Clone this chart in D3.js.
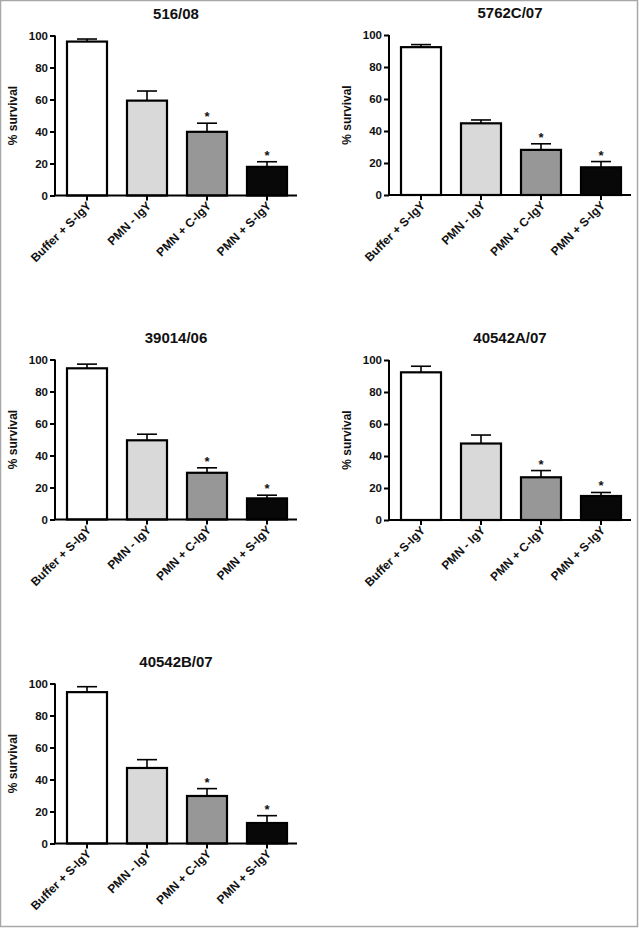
<!DOCTYPE html>
<html>
<head>
<meta charset="utf-8">
<script src="https://cdn.jsdelivr.net/npm/d3@7"></script>
<style>
  html, body { margin: 0; padding: 0; background: #fff; }
  svg { display: block; }
  text { font-family: "Liberation Sans", Arial, sans-serif; font-weight: bold; fill: #111; }
</style>
</head>
<body>
<svg id="chart" width="639" height="928"></svg>
<script>
// ---- data ----
const categories = ["Buffer + S-IgY", "PMN - IgY", "PMN + C-IgY", "PMN + S-IgY"];
const barColors = ["#ffffff", "#d9d9d9", "#979797", "#080808"];
const significant = [false, false, true, true];
const yTicks = [0, 20, 40, 60, 80, 100];

const titles = ["516/08", "5762C/07", "39014/06", "40542A/07", "40542B/07"];
const means_516_08   = [96.2, 59.3, 39.8, 17.9];
const errors_516_08  = [1.6, 6.0, 5.4, 3.2];
const means_5762C_07 = [92.4, 44.8, 28.2, 17.3];
const errors_5762C_07= [1.6, 2.1, 3.8, 3.6];
const means_39014_06 = [94.5, 49.5, 29.2, 13.2];
const errors_39014_06= [2.6, 3.8, 3.1, 2.0];
const means_40542A_07 = [92.3, 47.8, 26.7, 15.0];
const errors_40542A_07= [3.8, 5.3, 4.2, 2.2];
const means_40542B_07 = [94.6, 47.2, 29.7, 12.8];
const errors_40542B_07= [3.4, 5.2, 4.6, 4.6];

const panelMeans = [means_516_08, means_5762C_07, means_39014_06, means_40542A_07, means_40542B_07];
const panelErrors = [errors_516_08, errors_5762C_07, errors_39014_06, errors_40542A_07, errors_40542B_07];

// ---- layout ----
const layout = [
  {axisX: 55,  top: 35.5},
  {axisX: 389, top: 35},
  {axisX: 55,  top: 359.5},
  {axisX: 389, top: 360},
  {axisX: 55,  top: 683.5}
];
const plotH = 160;
const plotW = 240;

const svg = d3.select("#chart");
svg.append("rect").attr("x", 0.5).attr("y", 0.5).attr("width", 637).attr("height", 926)
  .attr("fill", "#fff").attr("stroke", "#a8a8a8").attr("stroke-width", 1.5);

layout.forEach((L, i) => {
  const means = panelMeans[i], errs = panelErrors[i];
  const g = svg.append("g");
  const x0 = L.axisX + 2;
  const y = d3.scaleLinear().domain([0, 100]).range([L.top + plotH, L.top]);
  const x = d3.scaleBand().domain(categories).range([x0, x0 + plotW])
    .paddingInner(1/3).paddingOuter(1/6);

  // bars
  g.selectAll("rect.bar").data(categories).join("rect")
    .attr("class", "bar")
    .attr("x", d => x(d))
    .attr("width", x.bandwidth())
    .attr("y", (d, k) => y(means[k]))
    .attr("height", (d, k) => y(0) - y(means[k]))
    .attr("fill", (d, k) => barColors[k])
    .attr("stroke", "#000").attr("stroke-width", 2.2);

  // error bars (upper only)
  categories.forEach((c, k) => {
    const cx = x(c) + x.bandwidth() / 2;
    const top = y(means[k] + errs[k]);
    g.append("line").attr("x1", cx).attr("x2", cx)
      .attr("y1", y(means[k])).attr("y2", top)
      .attr("stroke", "#000").attr("stroke-width", 1.6);
    g.append("line").attr("x1", cx - 10).attr("x2", cx + 10)
      .attr("y1", top).attr("y2", top)
      .attr("stroke", "#000").attr("stroke-width", 1.6);
    if (significant[k]) {
      g.append("text").attr("x", cx).attr("y", top - 2)
        .attr("text-anchor", "middle").attr("font-size", 13).text("*");
    }
  });

  // y axis
  const yAxis = d3.axisLeft(y).tickValues(yTicks).tickSize(5).tickPadding(2);
  const ya = g.append("g").attr("transform", `translate(${L.axisX},0)`).call(yAxis);
  ya.select(".domain").attr("stroke", "#000").attr("stroke-width", 2)
    .attr("d", `M0,${y(100)}V${y(0)}`);
  ya.selectAll(".tick line").attr("stroke", "#000").attr("stroke-width", 2);
  ya.selectAll(".tick text").attr("font-size", 11.5).attr("font-family", null)
    .style("font-weight", "bold").attr("fill", "#111");

  // x axis
  const xa = g.append("g").attr("transform", `translate(0,${y(0)})`)
    .call(d3.axisBottom(x).tickSize(5).tickFormat(""));
  xa.select(".domain").attr("stroke", "#000").attr("stroke-width", 2)
    .attr("d", `M${L.axisX},0H${x0 + plotW}`);
  xa.selectAll(".tick line").attr("stroke", "#000").attr("stroke-width", 2);

  // x labels (rotated)
  categories.forEach(c => {
    const cx = x(c) + x.bandwidth() / 2;
    g.append("text")
      .attr("transform", `translate(${cx + 5},${y(0) + 11}) rotate(-45)`)
      .attr("text-anchor", "end").attr("font-size", 12).text(c);
  });

  // y label
  g.append("text")
    .attr("transform", `translate(${L.axisX - 38},${(y(0) + y(100)) / 2}) rotate(-90)`)
    .attr("text-anchor", "middle").attr("font-size", 12).text("% survival");

  // title
  g.append("text").attr("x", (L.axisX + x0 + plotW) / 2).attr("y", L.top - 17)
    .attr("text-anchor", "middle").attr("font-size", 15).text(titles[i]);
});
</script>
</body>
</html>
